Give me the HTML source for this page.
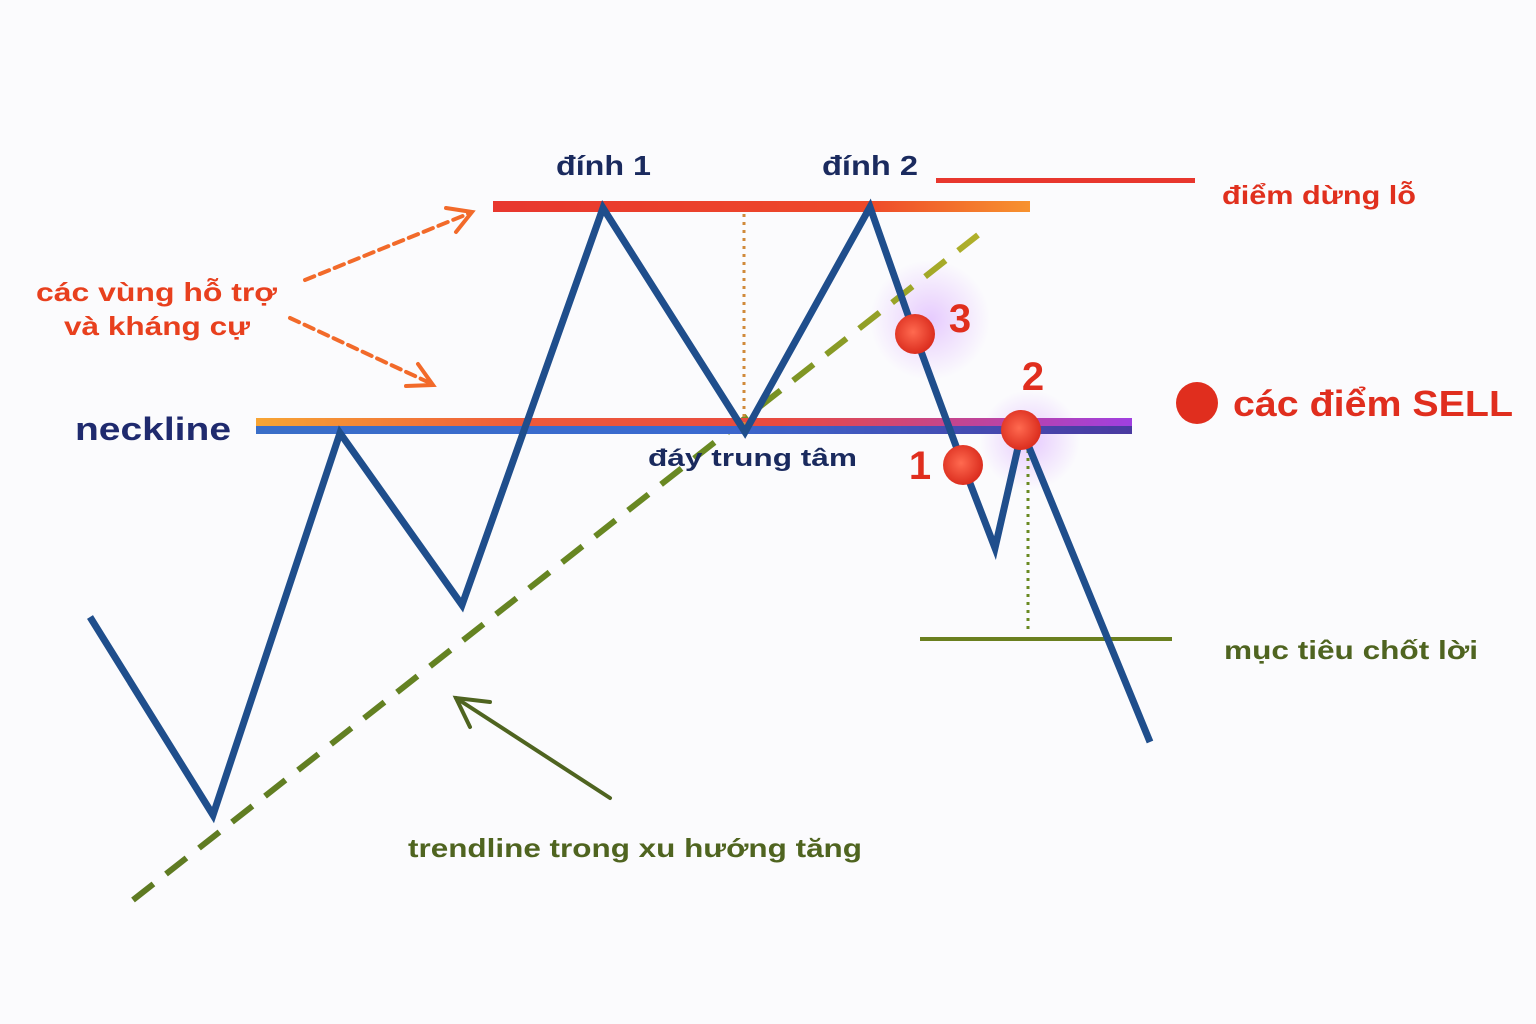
<!DOCTYPE html>
<html><head><meta charset="utf-8"><style>
html,body{margin:0;padding:0;background:#fbfbfd;}
svg{display:block}
text{font-family:"Liberation Sans",DejaVu Sans,sans-serif;font-weight:bold}
</style></head><body>
<svg width="1536" height="1024" viewBox="0 0 1536 1024" xmlns="http://www.w3.org/2000/svg">
<defs>
<linearGradient id="res" x1="0" x2="1"><stop offset="0" stop-color="#e8372e"/><stop offset="0.7" stop-color="#ee4a2a"/><stop offset="1" stop-color="#f7922e"/></linearGradient>
<linearGradient id="nkTop" x1="0" x2="1"><stop offset="0" stop-color="#f7a534"/><stop offset="0.3" stop-color="#ee5a3a"/><stop offset="0.6" stop-color="#e84a40"/><stop offset="1" stop-color="#a040e0"/></linearGradient>
<linearGradient id="nkBot" x1="0" x2="1"><stop offset="0" stop-color="#3a6ec8"/><stop offset="0.5" stop-color="#3a6ad0"/><stop offset="1" stop-color="#4a3aa0"/></linearGradient>
<linearGradient id="tl" x1="0" x2="1"><stop offset="0" stop-color="#5e7a22"/><stop offset="0.7" stop-color="#6a8a22"/><stop offset="1" stop-color="#b0b02a"/></linearGradient>
<radialGradient id="dot" cx="0.45" cy="0.45" r="0.6"><stop offset="0" stop-color="#ff6a50"/><stop offset="1" stop-color="#d8281a"/></radialGradient>
<radialGradient id="glow"><stop offset="0" stop-color="#c070ff" stop-opacity="0.35"/><stop offset="1" stop-color="#c070ff" stop-opacity="0"/></radialGradient>
</defs>
<circle cx="930" cy="320" r="60" fill="url(#glow)"/>
<circle cx="1030" cy="440" r="50" fill="url(#glow)"/>
<rect x="493" y="201" width="537" height="11" fill="url(#res)"/>
<rect x="936" y="178" width="259" height="5" fill="#e8372e"/>
<line x1="133" y1="900" x2="978" y2="235" stroke="url(#tl)" stroke-width="6" stroke-dasharray="26,16"/>
<rect x="256" y="418" width="876" height="8" fill="url(#nkTop)"/>
<rect x="256" y="426" width="876" height="8" fill="url(#nkBot)"/>
<rect x="920" y="637" width="252" height="4" fill="#6a7f1f"/>
<line x1="744" y1="214" x2="744" y2="428" stroke="#d08a3a" stroke-width="3" stroke-dasharray="3,5"/>
<line x1="1028" y1="450" x2="1028" y2="634" stroke="#6a8a22" stroke-width="3" stroke-dasharray="3,5"/>
<g stroke="#f26a2a" stroke-width="4" fill="none" stroke-linecap="round">
<line x1="305" y1="280" x2="470" y2="213" stroke-dasharray="10,6"/>
<polyline points="446,208 472,212 456,232"/>
<line x1="290" y1="318" x2="430" y2="383" stroke-dasharray="10,6"/>
<polyline points="418,364 433,385 406,386"/>
</g>
<g stroke="#4f6420" stroke-width="4" fill="none" stroke-linecap="round">
<line x1="610" y1="798" x2="456" y2="698"/>
<polyline points="490,702 456,698 470,727"/>
</g>
<polyline points="90,617 213,815 340,433 462,605 603,208 745,432 870,207 915,335 963,465 995,548 1022,430 1150,742" fill="none" stroke="#1f4e8c" stroke-width="7" stroke-linejoin="miter"/>
<circle cx="915" cy="334" r="20" fill="url(#dot)"/>
<circle cx="963" cy="465" r="20" fill="url(#dot)"/>
<circle cx="1021" cy="430" r="20" fill="url(#dot)"/>
<circle cx="1197" cy="403" r="21" fill="#e02e1e"/>
<text x="556" y="175" font-size="28" fill="#1a2a5e" textLength="95" lengthAdjust="spacingAndGlyphs">đính 1</text>
<text x="822" y="175" font-size="28" fill="#1a2a5e" textLength="96" lengthAdjust="spacingAndGlyphs">đính 2</text>
<text x="1222" y="204" font-size="26" fill="#e0301e" textLength="194" lengthAdjust="spacingAndGlyphs">điểm dừng lỗ</text>
<text x="36" y="301" font-size="26" fill="#e8401e" textLength="241" lengthAdjust="spacingAndGlyphs">các vùng hỗ trợ</text>
<text x="64" y="335" font-size="26" fill="#e8401e" textLength="186" lengthAdjust="spacingAndGlyphs">và kháng cự</text>
<text x="75" y="440" font-size="32" fill="#1f2a6e" textLength="156" lengthAdjust="spacingAndGlyphs">neckline</text>
<text x="648" y="466" font-size="24" fill="#1a2a5e" textLength="209" lengthAdjust="spacingAndGlyphs">đáy trung tâm</text>
<text x="960" y="332" text-anchor="middle" font-size="40" fill="#e02e1e">3</text>
<text x="1033" y="390" text-anchor="middle" font-size="40" fill="#e02e1e">2</text>
<text x="920" y="479" text-anchor="middle" font-size="40" fill="#e02e1e">1</text>
<text x="1233" y="416" font-size="36" fill="#e02e1e" textLength="280" lengthAdjust="spacingAndGlyphs">các điểm SELL</text>
<text x="1224" y="659" font-size="26" fill="#4f6420" textLength="254" lengthAdjust="spacingAndGlyphs">mục tiêu chốt lời</text>
<text x="408" y="857" font-size="26" fill="#4f6420" textLength="454" lengthAdjust="spacingAndGlyphs">trendline trong xu hướng tăng</text>
</svg>
</body></html>
